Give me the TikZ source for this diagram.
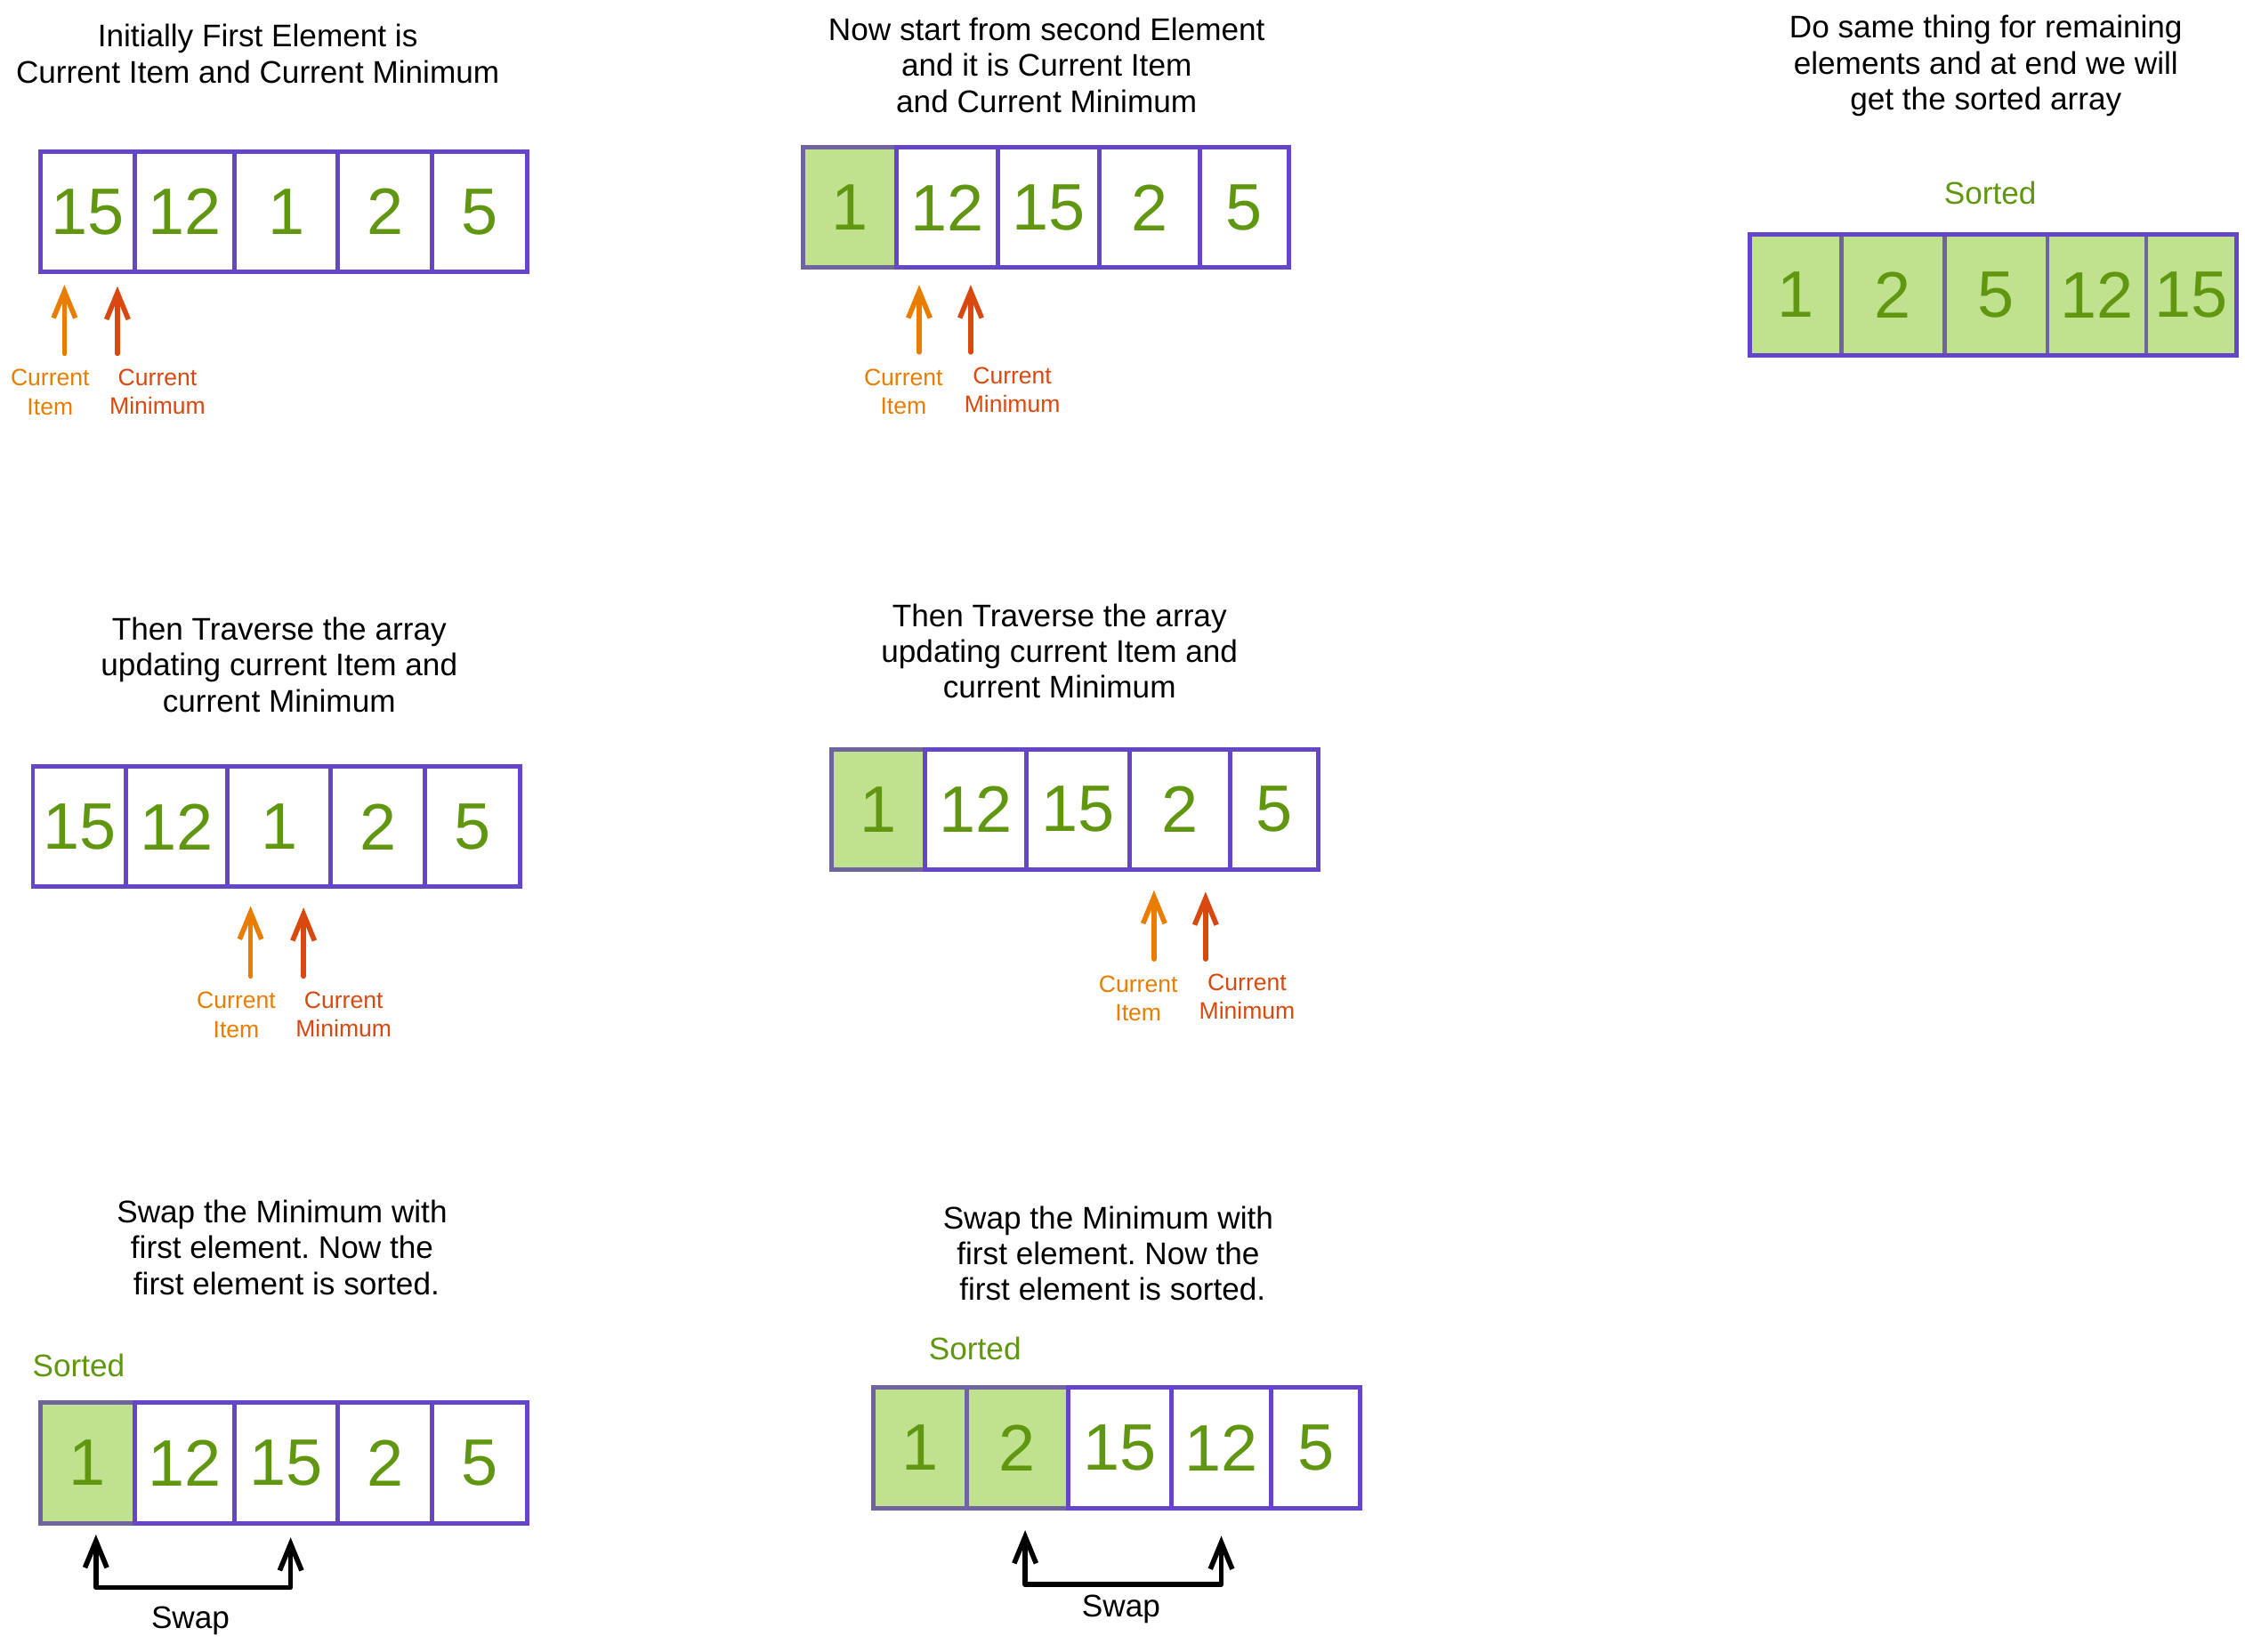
\documentclass[tikz,border=0pt]{standalone}
\usepackage{fontspec}
\setmainfont{Liberation Sans}
\usetikzlibrary{arrows.meta}
\frenchspacing
\definecolor{boxpurple}{RGB}{102,70,200}
\definecolor{numgreen}{RGB}{96,150,16}
\definecolor{fillgreen}{RGB}{192,226,142}
\definecolor{cellgray}{RGB}{112,100,160}
\definecolor{curorange}{RGB}{232,125,0}
\definecolor{curred}{RGB}{217,72,15}
\newcommand\mkcell[6][]{\node[cellbox,#1,minimum width={(#4-#3)*0.01609cm}] (#2) at ({(#3+#4)/2},#5) {#6};}
\begin{document}
\begin{tikzpicture}[x=0.01609cm,y=-0.01609cm,
  cellbox/.style={draw=boxpurple, line width=1.4pt, inner sep=0pt, outer sep=0pt,
    minimum height=1.3516cm, text=numgreen, font=\fontsize{21}{25}\selectfont},
  donecell/.style={fill=fillgreen, draw=cellgray},
  titletext/.style={align=center, font=\fontsize{10}{11.45}\selectfont, inner sep=0pt},
  sortedtext/.style={text=numgreen, font=\fontsize{10}{11.45}\selectfont, inner sep=0pt},
  curlabel/.style={align=center, font=\fontsize{7.55}{9.16}\selectfont, inner sep=0pt},
  curarrow/.style={line width=1.6pt, line cap=round, -{Straight Barb[length=8.5pt,width=7pt,line width=1.6pt]}},
  swaparrow/.style={line width=1.6pt, line cap=round, line join=round,
    {Straight Barb[length=8.5pt,width=7pt,line width=1.6pt]}-{Straight Barb[length=8.5pt,width=7pt,line width=1.6pt]}}
]
\useasboundingbox[fill=white] (0,0) rectangle (1568,1153.5);

% ---------- Panel 1 ----------
\node[titletext] (t1) at (180,37.5) {Initially First Element is\\Current Item and Current Minimum};
\mkcell{a1}{28}{94}{148}{15}
\mkcell{a2}{94}{164}{148}{12}
\mkcell{a3}{164}{236}{148}{1}
\mkcell{a4}{236}{302}{148}{2}
\mkcell{a5}{302}{368}{148}{5}
\coordinate (a1ot) at (45,247); \coordinate (a1oh) at (45,199);
\coordinate (a1rt) at (82,247); \coordinate (a1rh) at (82,200);
\draw[curarrow, curorange] (a1ot) -- (a1oh);
\draw[curarrow, curred] (a1rt) -- (a1rh);
\node[curlabel, text=curorange] (a1ol) at (35,274) {Current\\Item};
\node[curlabel, text=curred] (a1rl) at (110,273.5) {Current\\Minimum};

% ---------- Panel 2 ----------
\node[titletext] (t2) at (731,45.5) {Now start from second Element\\and it is Current Item\\and Current Minimum};
\mkcell[donecell]{b1}{561}{626}{145}{1}
\mkcell{b2}{626}{697}{145}{12}
\mkcell{b3}{697}{768}{145}{15}
\mkcell{b4}{768}{838}{145}{2}
\mkcell{b5}{838}{900}{145}{5}
\coordinate (b1ot) at (642,246); \coordinate (b1oh) at (642,199);
\coordinate (b1rt) at (678,246); \coordinate (b1rh) at (678,199);
\draw[curarrow, curorange] (b1ot) -- (b1oh);
\draw[curarrow, curred] (b1rt) -- (b1rh);
\node[curlabel, text=curorange] (b1ol) at (631,273.5) {Current\\Item};
\node[curlabel, text=curred] (b1rl) at (707,272.5) {Current\\Minimum};

% ---------- Panel 3 ----------
\node[titletext] (t3) at (1387,46) {Do same thing for remaining\\elements and at end we will\\get the sorted array};
\node[sortedtext] (s3) at (1390,135) {Sorted};
\mkcell[donecell]{c1}{1222}{1286}{206}{1}
\mkcell[donecell]{c2}{1286}{1358}{206}{2}
\mkcell[donecell]{c3}{1358}{1430}{206}{5}
\mkcell[donecell]{c4}{1430}{1499}{206}{12}
\mkcell[donecell]{c5}{1499}{1562}{206}{15}
\draw[boxpurple, line width=1.4pt] (c1.north west) rectangle (c5.south east);

% ---------- Panel 4 ----------
\node[titletext] (t4) at (195,464.5) {Then Traverse the array\\updating current Item and\\current Minimum};
\mkcell{d1}{23}{88}{577.5}{15}
\mkcell{d2}{88}{159}{577.5}{12}
\mkcell{d3}{159}{231}{577.5}{1}
\mkcell{d4}{231}{297}{577.5}{2}
\mkcell{d5}{297}{363}{577.5}{5}
\coordinate (d1ot) at (175,682); \coordinate (d1oh) at (175,633);
\coordinate (d1rt) at (212,682); \coordinate (d1rh) at (212,634);
\draw[curarrow, curorange] (d1ot) -- (d1oh);
\draw[curarrow, curred] (d1rt) -- (d1rh);
\node[curlabel, text=curorange] (d1ol) at (165,709) {Current\\Item};
\node[curlabel, text=curred] (d1rl) at (240,708.5) {Current\\Minimum};

% ---------- Panel 5 ----------
\node[titletext] (t5) at (740,455) {Then Traverse the array\\updating current Item and\\current Minimum};
\mkcell[donecell]{e1}{581}{646}{565.5}{1}
\mkcell{e2}{646}{717}{565.5}{12}
\mkcell{e3}{717}{789}{565.5}{15}
\mkcell{e4}{789}{859}{565.5}{2}
\mkcell{e5}{859}{921}{565.5}{5}
\coordinate (e1ot) at (806,670); \coordinate (e1oh) at (806,622);
\coordinate (e1rt) at (842,670); \coordinate (e1rh) at (842,623);
\draw[curarrow, curorange] (e1ot) -- (e1oh);
\draw[curarrow, curred] (e1rt) -- (e1rh);
\node[curlabel, text=curorange] (e1ol) at (795,697.5) {Current\\Item};
\node[curlabel, text=curred] (e1rl) at (871,696.5) {Current\\Minimum};

% ---------- Panel 6 ----------
\node[titletext] (t6) at (197,871.5) {Swap the Minimum with\\first element. Now the\\\hspace*{0.28em}first element is sorted.};
\node[sortedtext] (s6) at (55,954) {Sorted};
\mkcell[donecell]{f1}{28}{94}{1022}{1}
\mkcell{f2}{94}{164}{1022}{12}
\mkcell{f3}{164}{236}{1022}{15}
\mkcell{f4}{236}{302}{1022}{2}
\mkcell{f5}{302}{368}{1022}{5}
\coordinate (f1l) at (67,1072); \coordinate (f1bl) at (67,1109);
\coordinate (f1br) at (203,1109); \coordinate (f1r) at (203,1074);
\draw[swaparrow] (f1l) -- (f1bl) -- (f1br) -- (f1r);
\node[titletext] (f1s) at (133,1132) {Swap};

% ---------- Panel 7 ----------
\node[titletext] (t7) at (774,875.5) {Swap the Minimum with\\first element. Now the\\\hspace*{0.28em}first element is sorted.};
\node[sortedtext] (s7) at (681,942) {Sorted};
\mkcell[donecell]{g1}{610}{675}{1011.5}{1}
\mkcell[donecell]{g2}{675}{746}{1011.5}{2}
\mkcell{g3}{746}{818}{1011.5}{15}
\mkcell{g4}{818}{888}{1011.5}{12}
\mkcell{g5}{888}{950}{1011.5}{5}
\coordinate (g1l) at (716,1069); \coordinate (g1bl) at (716,1107);
\coordinate (g1br) at (853,1107); \coordinate (g1r) at (853,1073);
\draw[swaparrow] (g1l) -- (g1bl) -- (g1br) -- (g1r);
\node[titletext] (g1s) at (783,1124) {Swap};
\end{tikzpicture}
\end{document}
